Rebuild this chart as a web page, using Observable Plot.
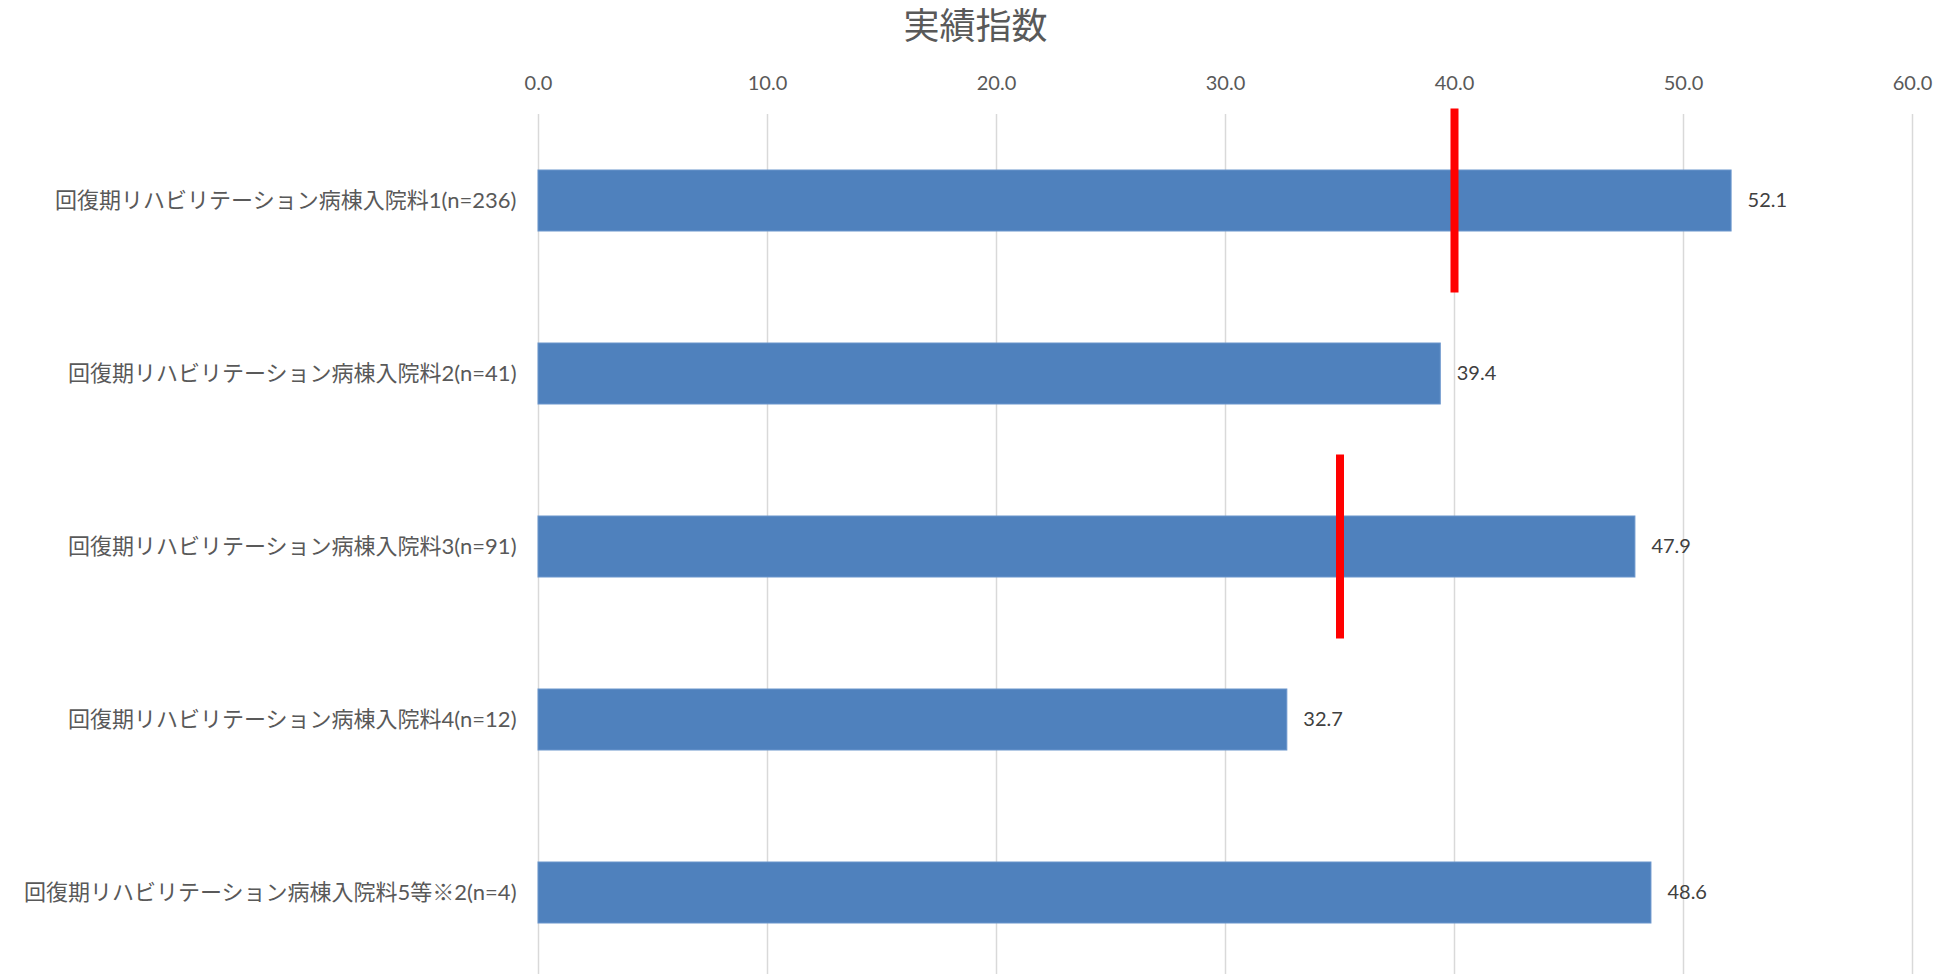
<!DOCTYPE html>
<html>
<head>
<meta charset="utf-8">
<script src="https://cdn.jsdelivr.net/npm/d3@7"></script>
<script src="https://cdn.jsdelivr.net/npm/@observablehq/plot@0.6"></script>
<style>
  html, body { margin: 0; padding: 0; background: #fff; overflow: hidden; width: 1951px; height: 974px; }
  #title { height: 56px; line-height: 46px; text-align: center; font-family: "Noto Sans CJK JP", sans-serif; font-size: 36px; color: #595959; width: 1951px; }
  #chart svg { display: block; }
</style>
</head>
<body>
<div id="title">実績指数</div>
<div id="chart"></div>
<script>
const categories = [
  "回復期リハビリテーション病棟入院料1(n=236)",
  "回復期リハビリテーション病棟入院料2(n=41)",
  "回復期リハビリテーション病棟入院料3(n=91)",
  "回復期リハビリテーション病棟入院料4(n=12)",
  "回復期リハビリテーション病棟入院料5等※2(n=4)"
];
const values = [52.1, 39.4, 47.9, 32.7, 48.6];
const targetCategories = [categories[0], categories[2]];
const targetValues = [40, 35];
const xTicks = [0, 10, 20, 30, 40, 50, 60];

const bars = categories.map((c, i) => ({cat: c, value: values[i]}));
const targets = targetCategories.map((c, i) => ({cat: c, value: targetValues[i]}));

const font = 'Lato, "Noto Sans CJK JP", sans-serif';

const chart = Plot.plot({
  width: 1951,
  height: 923,
  marginTop: 58,
  marginBottom: 0,
  marginLeft: 538,
  marginRight: 39,
  style: {fontFamily: font, background: "#fff"},
  x: {domain: [0, 60], ticks: xTicks, axis: null},
  y: {domain: categories, paddingInner: 0.647, paddingOuter: 0.3235, axis: null},
  marks: [
    Plot.gridX(xTicks, {stroke: "#d9d9d9", strokeOpacity: 1, strokeWidth: 1.5}),
    Plot.axisX(xTicks, {anchor: "top", tickSize: 0, tickPadding: 25, fontSize: 20, fill: "#595959", tickFormat: d3.format(".1f"), label: null}),
    Plot.axisY({tickSize: 0, tickPadding: 22, fontSize: 22, fill: "#595959", label: null}),
    Plot.barX(bars, {x: "value", y: "cat", fill: "#4f81bd", stroke: "#6a95cc", strokeWidth: 1}),
    Plot.tickX(targets, {x: "value", y: "cat", stroke: "#ff0000", strokeWidth: 8, insetTop: -61.5, insetBottom: -61.5}),
    Plot.text(bars, {x: "value", y: "cat", text: d => d3.format(".1f")(d.value), dx: 16, textAnchor: "start", fontSize: 20, fill: "#404040"})
  ]
});
document.getElementById("chart").appendChild(chart);
</script>
</body>
</html>
